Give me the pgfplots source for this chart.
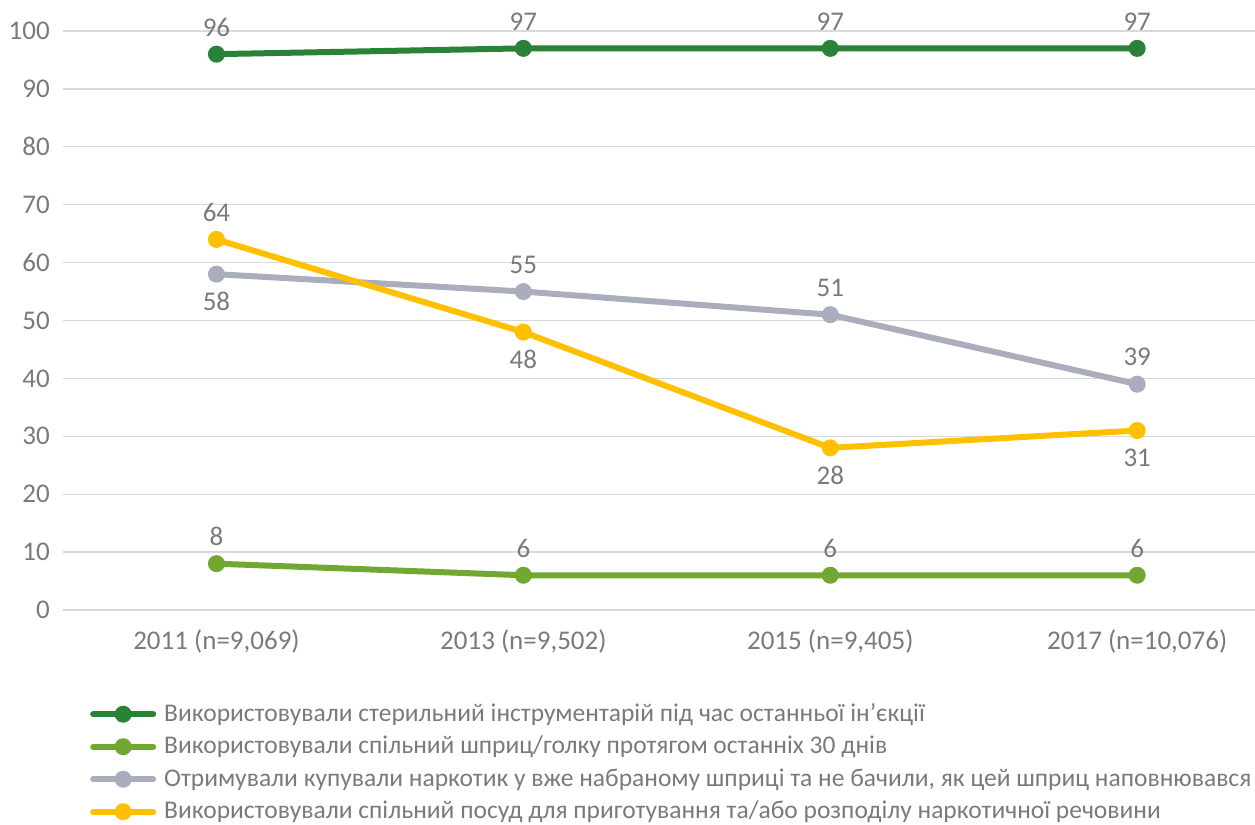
\documentclass[border=0pt]{standalone}
\usepackage{fontspec}
\setmainfont{Carlito}
\usepackage{pgfplots}
\pgfplotsset{compat=1.18}
\usepackage{pgfplotstable}
\definecolor{dgreen}{RGB}{42,130,55}
\definecolor{lgreen}{RGB}{114,168,50}
\definecolor{lgray}{RGB}{170,173,190}
\definecolor{yel}{RGB}{255,192,0}
\definecolor{txt}{RGB}{122,122,122}
\definecolor{grd}{RGB}{217,217,217}

\pgfplotstableread{
x y p
0 96 1
1 97 1
2 97 1
3 97 1
}\sterile
\pgfplotstableread{
x y p
0 8 1
1 6 1
2 6 1
3 6 1
}\shared
\pgfplotstableread{
x y p
0 58 -1
1 55 1
2 51 1
3 39 1
}\bought
\pgfplotstableread{
x y p
0 64 1
1 48 -1
2 28 -1
3 31 -1
}\dishes

\begin{document}
\begin{tikzpicture}
\fontsize{27bp}{32bp}\selectfont
\begin{axis}[
  at={(63bp,215bp)}, anchor=south west,
  scale only axis, width=1192bp, height=579bp,
  xmin=-0.5, xmax=3.384, ymin=0, ymax=100,
  ytick={0,10,...,100}, xtick={0,1,2,3},
  xticklabels={{2011 (n=9,069)},{2013 (n=9,502)},{2015 (n=9,405)},{2017 (n=10,076)}},
  ymajorgrids, grid style={grd, line width=1.3bp},
  axis line style={draw=none}, major tick length=0pt,
  tick label style={font=\fontsize{27bp}{32bp}\selectfont, text=txt},
  /pgf/number format/assume math mode=true,
  xticklabel style={yshift=-11bp},
  yticklabel style={xshift=-4bp},
  clip=false,
  every axis plot/.append style={line width=6bp, line cap=round, line join=round, mark=*, mark size=8bp, mark options={solid, line width=1bp}},
  nodes near coords,
  visualization depends on={\thisrow{p}\as\lp},
  every node near coord/.style={anchor=center, yshift=\lp*27bp, text=txt, font=\fontsize{27bp}{32bp}\selectfont},
  legend style={at={(0.02265,-0.1516)}, anchor=north west, draw=none, fill=none, inner sep=0pt, row sep=0pt, column sep=0pt,
    nodes={inner ysep=3.25bp, inner xsep=8bp, text=txt, text height=20bp, text depth=6bp},
    font=\fontsize{25.5bp}{30bp}\selectfont},
  legend cell align=left,
  legend image code/.code={\draw[mark repeat=2, mark phase=2, #1] plot coordinates {(0bp,0bp)(30bp,0bp)(60bp,0bp)};},
]
\addplot[dgreen] table[x=x,y=y] {\sterile};
\addlegendentry{Використовували стерильний інструментарій під час останньої ін’єкції}
\addplot[lgreen] table[x=x,y=y] {\shared};
\addlegendentry{Використовували спільний шприц/голку протягом останніх 30 днів}
\addplot[lgray] table[x=x,y=y] {\bought};
\addlegendentry{Отримували купували наркотик у вже набраному шприці та не бачили, як цей шприц наповнювався}
\addplot[yel] table[x=x,y=y] {\dishes};
\addlegendentry{Використовували спільний посуд для приготування та/або розподілу наркотичної речовини}
\end{axis}
\pgfresetboundingbox
\useasboundingbox (0,0) rectangle (1255bp,825bp);
\end{tikzpicture}
\end{document}
